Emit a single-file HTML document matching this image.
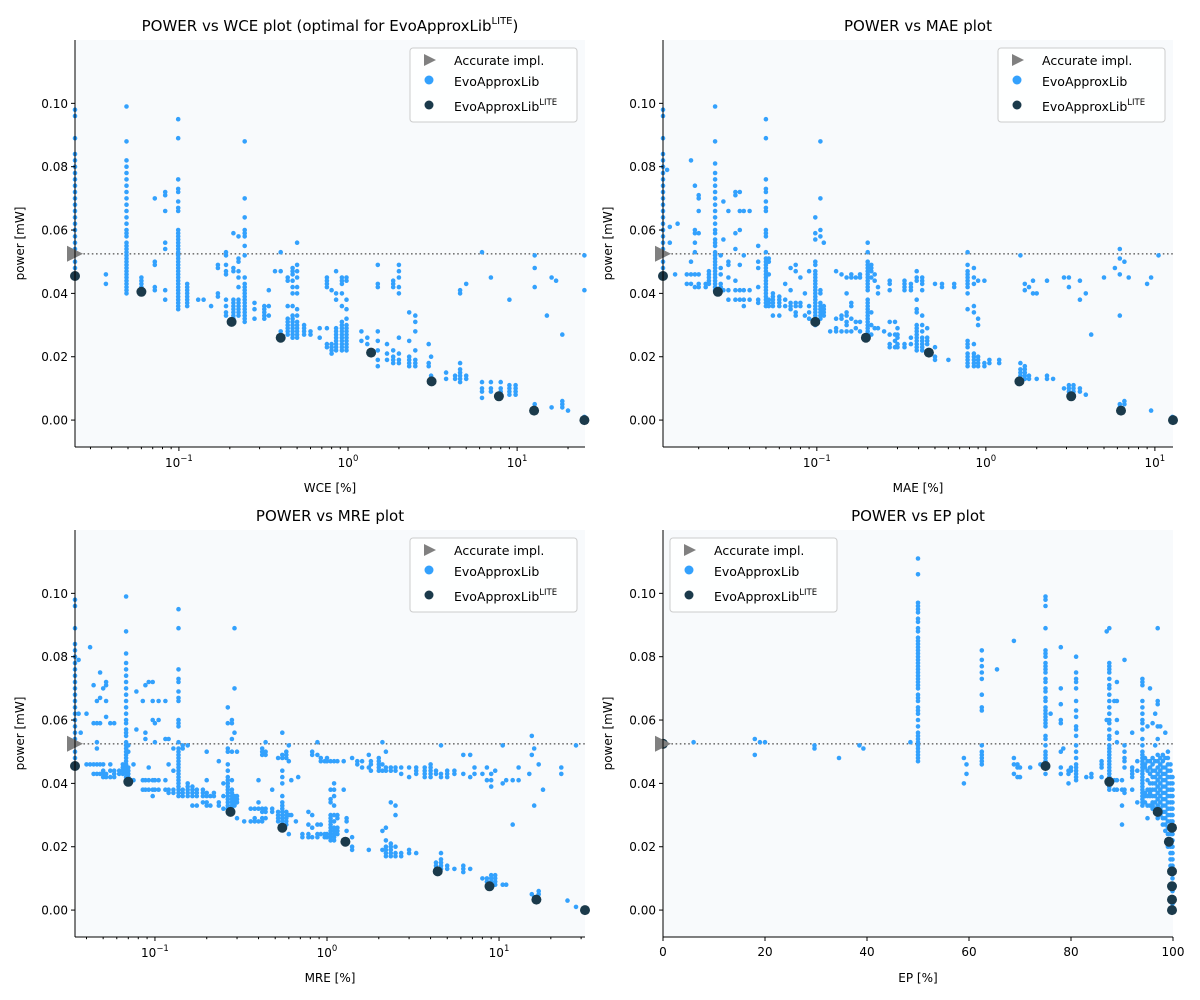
<!DOCTYPE html>
<html><head><meta charset="utf-8"><style>
body{margin:0;background:#fff;}
svg{display:block;font-family:"DejaVu Sans","Liberation Sans",sans-serif;}
</style></head><body>
<svg id="c" width="1200" height="1000" viewBox="0 0 1200 1000" xmlns="http://www.w3.org/2000/svg"></svg>
<script>
const accuratePower = 0.0525;
const yTicks = [0, 0.02, 0.04, 0.06, 0.08, 0.10];
const yTickLabels = ["0.00","0.02","0.04","0.06","0.08","0.10"];
const epTicks = [0,20,40,60,80,100];

const wceLite = [[0.0243,.0455],[0.06,.0405],[0.205,.031],[0.4,.026],[1.37,.0213],[3.12,.0122],[7.8,.0075],[12.6,.003],[25,0]];
const wceCols = [
[0.0243,[.046,.048,.050,.052,.054,.056,.058,.060,.062,.064,.066,.068,.070,.072,.074,.076,.078,.080,.082,.084,.089,.096,.098]],
[0.037,[.043,.046]],
[0.049,[.040,.041,.042,.043,.044,.045,.046,.047,.048,.049,.050,.051,.052,.053,.054,.055,.056,.058,.059,.060,.062,.064,.066,.068,.070,.072,.074,.076,.078,.080,.082,.088,.099]],
[0.06,[.042,.043,.044,.045]],[0.072,[.041,.042,.049,.050,.070]],[0.083,[.038,.041,.054,.056,.066,.071,.072]],
[0.099,[.035,.036,.037,.038,.039,.040,.041,.042,.043,.044,.045,.046,.047,.048,.049,.050,.051,.052,.053,.054,.055,.056,.057,.058,.059,.060,.066,.067,.069,.072,.073,.076,.089,.095]],
[0.112,[.036,.037,.038,.039,.040,.041,.042,.043]],[0.13,[.038]],[0.14,[.038]],[0.155,[.036]],
[0.17,[.039,.040,.048,.049]],[0.19,[.033,.034,.036,.038,.046,.047,.049,.052,.053]],
[0.21,[.032,.033,.034,.035,.036,.037,.038,.047,.048,.059]],[0.225,[.033,.034,.035,.036,.037,.038,.042,.045,.047,.050,.051,.058]],
[0.245,[.031,.032,.033,.034,.035,.036,.037,.038,.039,.040,.041,.042,.043,.045,.052,.055,.058,.059,.060,.064,.070,.088]],
[0.28,[.032,.035,.037]],[0.32,[.032,.033,.034,.035,.036]],[0.34,[.033,.036,.041]],[0.37,[.047]],[0.40,[.028,.047,.053]],
[0.44,[.027,.028,.029,.030,.031,.032,.036,.044,.045]],
[0.47,[.026,.027,.028,.029,.030,.031,.032,.033,.036,.040,.042,.044,.046,.047,.048]],
[0.5,[.026,.027,.028,.029,.030,.031,.033,.035,.040,.042,.045,.047,.049,.056]],
[0.55,[.027,.028,.029,.030]],[0.6,[.027,.028]],[0.68,[.026,.029]],[0.75,[.023,.024,.042,.043,.044,.045,.029]],
[0.8,[.021,.022,.023,.024,.041]],[0.85,[.022,.023,.024,.025,.026,.027,.028,.029,.038,.040,.047]],
[0.92,[.022,.023,.024,.025,.026,.027,.028,.029,.030,.031,.036,.040,.043,.044,.045]],
[0.98,[.022,.023,.024,.025,.026,.027,.028,.029,.030,.032,.035,.038,.044,.045]],
[1.2,[.028,.025]],[1.3,[.024,.026]],[1.5,[.017,.019,.022,.025,.028,.042,.043,.049]],[1.7,[.021,.024,.019]],
[1.85,[.018,.019,.020,.022,.042,.043,.044]],[2.0,[.018,.019,.021,.026,.040,.042,.045,.047,.049]],
[2.3,[.017,.018,.019,.020,.025,.034]],[2.5,[.017,.018,.019,.022,.028,.031,.033]],[3.0,[.018,.024,.017]],[3.1,[.014,.020]],
[3.8,[.013,.015]],[4.3,[.013,.014]],[4.6,[.012,.013,.014,.015,.016,.018,.040,.041]],[5.0,[.013,.014,.043]],
[6.2,[.007,.009,.010,.012,.053]],[7,[.009,.010,.012,.045]],[8,[.008,.009,.010,.012]],[9,[.008,.009,.010,.011,.038]],
[9.8,[.008,.009,.010,.011]],[12.7,[.005,.042,.048,.052]],[15,[.033]],[16,[.004,.045]],[17,[.044]],
[18.5,[.004,.005,.006,.027]],[20,[.003]],[25,[.000,.001,.041,.052]]
];

const maeLite = [[0.0123,.0455],[0.026,.0405],[0.098,.031],[0.195,.026],[0.46,.0213],[1.58,.0122],[3.2,.0075],[6.3,.003],[12.8,0]];
const maeCols = [
[0.0123,[.046,.048,.050,.052,.054,.056,.058,.060,.062,.064,.066,.068,.070,.072,.074,.076,.078,.080,.082,.084,.089,.096,.098]],
[0.013,[.079]],[0.0135,[.061,.056]],[0.015,[.062]],[0.0145,[.046]],[0.017,[.043,.046]],[0.018,[.043,.046,.050,.082]],
[0.019,[.042,.046,.053,.056,.059,.060,.074]],[0.02,[.042,.043,.046,.059,.066,.070,.071]],[0.022,[.042,.043]],[0.023,[.043,.044,.045,.046,.047]],
[0.025,[.041,.042,.043,.044,.045,.046,.047,.048,.049,.050,.051,.052,.053,.055,.056,.057,.059,.060,.062,.064,.066,.068,.070,.072,.074,.076,.078,.081,.088,.099]],
[0.027,[.041,.042,.043,.046,.048,.052]],[0.028,[.041,.069,.057]],[0.03,[.041,.038,.045,.050,.049,.066]],
[0.033,[.038,.041,.044,.054,.059,.071,.072]],[0.035,[.038,.041,.049,.060,.066,.072]],[0.037,[.036,.038,.041,.052,.066]],[0.04,[.038,.041,.066]],
[0.045,[.037,.038,.042,.048,.050,.055]],
[0.05,[.036,.037,.038,.039,.040,.041,.042,.043,.044,.045,.046,.047,.048,.049,.050,.051,.053,.058,.059,.060,.066,.067,.069,.072,.073,.076,.089,.095]],
[0.052,[.036,.037,.038,.046,.050,.051]],[0.055,[.036,.037,.038,.039,.040,.033]],[0.06,[.033,.036,.037,.038,.039]],
[0.065,[.036,.038,.043]],[0.07,[.035,.036,.037,.041,.048]],[0.075,[.033,.034,.036,.037,.047,.049]],[0.08,[.036,.037,.045]],
[0.085,[.033,.040]],[0.09,[.032,.034,.036,.047]],
[0.098,[.030,.031,.032,.033,.034,.035,.036,.037,.038,.039,.040,.041,.042,.043,.044,.045,.046,.047,.049,.050,.057,.059,.064]],
[0.105,[.032,.033,.034,.035,.036,.037,.040,.041,.058,.060,.070,.088]],[0.11,[.033,.034,.035,.036,.056]],[0.12,[.028]],
[0.13,[.028,.029,.032,.047]],[0.14,[.028,.032,.033,.046]],[0.15,[.028,.030,.031,.033,.034,.040,.045]],[0.16,[.028,.032,.036,.037,.045,.046]],
[0.17,[.029,.031,.045]],[0.18,[.028,.031,.045,.046]],
[0.2,[.026,.027,.028,.029,.030,.031,.032,.033,.034,.035,.036,.037,.038,.041,.042,.043,.044,.045,.046,.047,.048,.049,.050,.053,.056]],
[0.21,[.027,.030,.034,.045,.047,.048,.049]],[0.22,[.029,.044,.046]],[0.23,[.029,.040,.042]],[0.25,[.028]],
[0.27,[.023,.024,.027,.031,.041,.043,.044]],[0.29,[.023,.025,.027,.031]],[0.3,[.023,.024,.026,.027,.029]],
[0.33,[.023,.024,.041,.042,.043,.044]],[0.36,[.024,.026,.041,.042,.043]],
[0.39,[.022,.023,.024,.025,.026,.027,.028,.029,.030,.034,.035,.038,.044,.045,.047]],
[0.42,[.022,.023,.024,.025,.026,.028,.030,.033,.041,.043,.044,.045]],[0.45,[.024,.025,.026,.029]],
[0.5,[.019,.020,.023,.043]],[0.55,[.042,.043]],[0.6,[.019]],[0.65,[.042,.043]],
[0.78,[.017,.018,.019,.020,.021,.023,.024,.025,.035,.040,.042,.043,.044,.045,.046,.047,.049,.053]],
[0.85,[.017,.018,.019,.020,.021,.024,.034,.036,.043,.045,.048]],[0.9,[.017,.018,.019,.020,.030,.032,.044]],
[0.98,[.017,.018,.044]],[1.05,[.018,.019]],[1.2,[.018,.019]],
[1.6,[.013,.014,.015,.016,.018,.052]],[1.7,[.013,.014,.015,.016,.017,.043,.041]],[1.8,[.013,.014,.042]],[1.9,[.040,.044]],[2.0,[.013,.040]],
[2.3,[.013,.014,.044]],[2.5,[.013]],[2.9,[.010,.045]],[3.1,[.009,.010,.011,.045,.042]],[3.3,[.008,.009,.010,.011]],
[3.6,[.044,.009,.010,.038]],[3.9,[.008,.040]],[4.2,[.027]],[5.0,[.045]],[5.8,[.048]],[6.2,[.004,.005,.046,.051,.054,.033]],
[6.6,[.005,.006,.050]],[7,[.045]],[9,[.043]],[9.5,[.003,.045]],[10.5,[.052]],[12.7,[.001]]
];

const mreLite = [[0.0343,.0455],[0.07,.0405],[0.275,.031],[0.55,.026],[1.28,.0216],[4.4,.0122],[8.8,.0075],[16.5,.0033],[31.6,0]];
const mreCols = [
[0.0343,[.046,.048,.050,.052,.054,.056,.058,.060,.062,.064,.066,.068,.070,.072,.074,.076,.078,.080,.082,.084,.089,.096,.098]],
[0.036,[.062,.079]],[0.037,[.056]],[0.04,[.046,.062]],[0.042,[.046,.083]],[0.044,[.043,.046,.059,.071]],
[0.046,[.043,.046,.051,.053,.059,.066]],[0.048,[.043,.046,.059,.075,.067]],[0.05,[.042,.043,.044,.046,.070]],
[0.052,[.042,.043,.061,.066,.071,.072]],[0.055,[.042,.044,.059,.046]],[0.058,[.042,.043,.044,.059]],[0.062,[.043,.044]],[0.065,[.043,.044,.045,.046]],
[0.068,[.041,.042,.043,.044,.045,.046,.047,.048,.049,.050,.051,.052,.053,.055,.056,.057,.059,.060,.062,.064,.066,.068,.070,.072,.074,.076,.078,.081,.088,.099]],
[0.07,[.042,.043,.044,.045,.050,.052]],[0.075,[.041,.046]],[0.078,[.057,.069]],[0.085,[.038,.041,.066]],
[0.088,[.038,.041,.054,.056,.071]],[0.092,[.038,.041,.045,.072]],[0.097,[.036,.038,.041,.060,.066,.072]],[0.1,[.038,.041,.053,.059]],
[0.105,[.038,.041,.060,.066]],[0.115,[.038,.041,.054,.066]],[0.12,[.037,.038,.046,.054]],[0.128,[.037,.038,.044,.051]],
[0.137,[.036,.037,.038,.039,.040,.041,.042,.043,.044,.045,.046,.047,.048,.049,.050,.051,.053,.058,.059,.060,.066,.067,.069,.072,.073,.076,.089,.095]],
[0.145,[.036,.037,.038,.051,.052]],[0.155,[.036,.037,.038,.039,.040,.052]],[0.165,[.033,.036,.037,.038,.039]],[0.175,[.033,.036,.037,.038]],
[0.19,[.034,.036,.037,.038]],[0.2,[.033,.034,.036,.037,.041,.050]],[0.21,[.033,.036]],[0.22,[.036,.037]],[0.235,[.033,.034,.047]],[0.25,[.032,.036,.040]],
[0.265,[.031,.032,.033,.034,.035,.036,.037,.038,.039,.040,.041,.042,.044,.046,.050,.051,.059,.064]],
[0.28,[.032,.033,.034,.035,.036,.037,.038,.041,.050,.054,.059,.060]],[0.29,[.033,.034,.035,.036,.056,.070,.089]],
[0.3,[.029,.034,.035,.036,.050]],[0.33,[.028]],[0.36,[.028,.032]],[0.38,[.028,.029,.032]],[0.4,[.028,.032,.034,.041]],
[0.42,[.028,.029,.031,.032,.049,.050,.051]],[0.44,[.029,.031,.032,.049,.050,.053]],[0.48,[.031,.032,.038]],
[0.52,[.028,.029,.030,.031,.048]],[0.55,[.026,.027,.028,.029,.030,.031,.032,.033,.034,.036,.040,.042,.044,.048,.049,.056]],
[0.58,[.027,.028,.029,.030,.031,.048,.049,.050]],[0.6,[.024,.030,.047,.052]],[0.62,[.030,.041]],[0.66,[.028]],[0.68,[.042]],
[0.72,[.023,.024]],[0.78,[.023,.024,.027,.031]],[0.82,[.023,.026,.030,.049,.050]],[0.88,[.023,.024,.027,.049,.053]],
[0.92,[.024,.027,.047,.048]],[0.97,[.023,.024,.047]],[1.0,[.023,.024,.047,.048]],
[1.05,[.022,.023,.024,.025,.026,.027,.028,.029,.030,.034,.035,.038,.047]],
[1.1,[.022,.023,.024,.025,.026,.028,.030,.033,.036,.038,.040,.047]],[1.15,[.024,.025,.026,.029,.030,.047]],
[1.25,[.038,.047]],[1.3,[.025,.028,.029]],[1.4,[.019,.020,.023,.048]],[1.5,[.046,.047]],[1.6,[.045,.047]],
[1.75,[.019,.045,.049]],[1.8,[.044,.046,.047]],[2.0,[.044,.045,.046,.047,.048]],[2.1,[.019,.025,.044,.046,.053]],
[2.2,[.017,.018,.019,.020,.022,.026,.050,.044,.045]],[2.35,[.017,.018,.019,.020,.021,.034,.045,.044]],
[2.5,[.017,.018,.020,.030,.033,.044,.045]],[2.7,[.017,.018,.043,.045]],[3.0,[.018,.019,.042,.045]],[3.3,[.018,.043,.044,.045]],
[3.7,[.042,.043,.044,.045]],[4.0,[.042,.043,.044,.045,.046]],[4.3,[.013,.014,.015,.043,.044]],
[4.6,[.013,.014,.015,.016,.018,.042,.043,.052]],[5.0,[.013,.014,.043,.042,.044]],[5.5,[.013,.043,.044]],
[6.2,[.012,.013,.014,.043,.049]],[6.8,[.013,.042,.049]],[7.2,[.043,.045]],[8,[.010,.043]],[8.5,[.009,.010,.041,.045]],
[9,[.008,.009,.010,.011,.039,.041,.043]],[9.5,[.008,.009,.010,.011,.044]],[10.5,[.008,.040,.052]],[11,[.008,.041]],
[12,[.027,.041]],[13,[.041,.045]],[15,[.043]],[15.5,[.005,.049,.055]],[16,[.004,.051,.033]],[17,[.005,.006,.046]],
[18,[.038]],[23,[.045,.043]],[25,[.003]],[28,[.001,.052]]
];

const epLite = [[0,.0525],[75,.0455],[87.5,.0405],[97,.031],[99.8,.026],[99.2,.0216],[99.8,.0122],[99.8,.0075],[99.8,.0033],[99.8,0]];
const epCols = [
[6,[.053]],[18,[.054,.049]],[19,[.053]],[20,[.053]],[29.7,[.051,.052]],[34.5,[.048]],[38.5,[.052]],[39.3,[.051]],[48.5,[.053]],
[50,[.047,.048,.049,.050,.051,.052,.053,.054,.055,.056,.058,.060,.062,.063,.064,.066,.067,.068,.070,.071,.072,.073,.074,.075,.076,.077,.078,.079,.080,.081,.082,.083,.084,.085,.086,.088,.089,.091,.092,.094,.095,.096,.097,.106,.111]],
[59,[.040,.048]],[59.5,[.043,.046]],[62.5,[.046,.047,.048,.049,.050,.052,.063,.064,.068,.073,.075,.077,.079,.082]],[65.5,[.076]],
[68.8,[.085,.048,.046,.043]],[69.5,[.042,.045,.046]],[70,[.042,.045]],[72,[.045]],[74,[.046]],
[75,[.043,.045,.046,.047,.048,.049,.050,.052,.054,.055,.058,.059,.060,.061,.062,.063,.064,.066,.067,.069,.070,.072,.073,.075,.076,.077,.078,.080,.081,.082,.089,.096,.098,.099]],
[76,[.062]],[78,[.043,.045,.050,.059,.060,.065,.070,.083]],[78.5,[.051]],[79.5,[.040,.043,.044]],[80,[.044,.045]],
[81,[.041,.042,.043,.044,.045,.046,.048,.050,.052,.055,.057,.058,.061,.063,.066,.070,.072,.073,.075,.080]],
[83,[.042]],[84,[.042,.043]],[86,[.042,.045,.046,.047]],[87,[.060,.088]],
[87.5,[.038,.039,.040,.041,.042,.043,.044,.045,.046,.047,.048,.049,.050,.051,.052,.054,.055,.057,.059,.060,.062,.064,.066,.068,.070,.071,.073,.075,.076,.077,.078,.089]],
[88.5,[.038,.041,.066]],[89,[.038,.041,.053,.056,.060,.066,.072]],[90,[.033,.027,.038,.041]],[90.5,[.037,.038,.045,.047,.048,.050,.052,.079]],
[92,[.038,.042,.043,.044,.045,.056]],[93,[.034,.044,.047]],
[94,[.033,.034,.035,.036,.037,.038,.039,.040,.041,.042,.043,.044,.045,.046,.047,.048,.049,.050,.052,.054,.057,.059,.060,.062,.064,.066,.071,.072,.073]],
[94.5,[.034,.036,.037,.045,.046,.048]],[95,[.029,.033,.036,.038,.041,.044,.047,.058]],[95.5,[.033,.036,.037,.038,.040,.043,.045,.047,.070]],
[96,[.032,.033,.034,.036,.038,.040,.042,.044,.046,.048,.059]],[96.5,[.032,.034,.036,.038,.040,.042,.044,.047,.052,.062]],
[97,[.029,.031,.033,.035,.037,.039,.041,.043,.045,.047,.049,.054,.058,.065,.066,.089]],
[97.5,[.030,.032,.034,.036,.038,.040,.042,.044,.046,.048,.058]],
[98,[.027,.029,.031,.033,.035,.037,.039,.041,.043,.045,.047,.049]],
[98.5,[.025,.027,.029,.031,.033,.035,.037,.039,.041,.043,.045,.048,.056]],
[99,[.020,.022,.024,.026,.028,.030,.032,.034,.036,.038,.040,.042,.044,.046,.048,.050]],
[99.5,[.012,.014,.016,.018,.020,.022,.024,.026,.028,.030,.032,.034,.036,.038,.040,.042,.044,.046]],
[99.9,[.000,.002,.004,.006,.008,.010,.012,.014,.016,.018,.020,.022,.024,.026,.028,.030,.032,.034,.036,.038,.040,.042]]
];

const NS = "http://www.w3.org/2000/svg";
const svg = document.getElementById('c');
function mk(tag, attrs, parent){ const e=document.createElementNS(NS,tag); for(const k in attrs) e.setAttribute(k,attrs[k]); (parent||svg).appendChild(e); return e; }

const panels = [
 {name:'wce', left:75, top:40, log:true, xmin:0.0243, xmax:25.2, cols:wceCols, lite:wceLite, label:'WCE [%]', legendX:410, title:'POWER vs WCE plot (optimal for EvoApproxLib', sup:true},
 {name:'mae', left:663, top:40, log:true, xmin:0.0123, xmax:12.8, cols:maeCols, lite:maeLite, label:'MAE [%]', legendX:998, title:'POWER vs MAE plot'},
 {name:'mre', left:75, top:530, log:true, xmin:0.0343, xmax:31.6, cols:mreCols, lite:mreLite, label:'MRE [%]', legendX:410, title:'POWER vs MRE plot'},
 {name:'ep', left:663, top:530, log:false, xmin:0, xmax:100, cols:epCols, lite:epLite, label:'EP [%]', legendX:670, title:'POWER vs EP plot'}
];
const W=510, H=407, YMIN=-0.0085, YMAX=0.12;

panels.forEach(p=>{
  const g = mk('g',{});
  
  
  const xS = v => p.log ? p.left + (Math.log10(v)-Math.log10(p.xmin))/(Math.log10(p.xmax)-Math.log10(p.xmin))*W
                        : p.left + (v-p.xmin)/(p.xmax-p.xmin)*W;
  const yS = v => p.top + (YMAX-v)/(YMAX-YMIN)*H;
  const bg = mk('rect',{x:p.left,y:p.top,width:W,height:H,fill:'#f8fafc'},g);
  
  
  const rl = mk('line',{x1:p.left,x2:p.left+W,y1:yS(accuratePower),y2:yS(accuratePower),stroke:'#777','stroke-width':1.6,'stroke-dasharray':'1.6,2.6'},g);
  
  
  const clip = mk('clipPath',{id:'cl'+p.name},g);
  mk('rect',{x:p.left-6,y:p.top,width:W+12,height:H},clip);
  const pts = mk('g',{'clip-path':'url(#cl'+p.name+')'},g);
  
  
  p.cols.forEach(col=>{
    col[1].forEach(y=>{
      const c = mk('circle',{cx:xS(col[0]).toFixed(1),cy:yS(y).toFixed(1),r:2.3,fill:'#33a1fd'},pts);
      
      
    });
  });
  const lp = mk('g',{},g);
  
  
  p.lite.forEach(d=>{
    const c = mk('circle',{cx:xS(d[0]).toFixed(1),cy:yS(d[1]).toFixed(1),r:5,fill:'#1b3a4b'},lp);
    
    
  });
  const ay=yS(accuratePower), ax=p.left;
  const tri = mk('polygon',{points:`${ax-8},${ay-8} ${ax+8},${ay} ${ax-8},${ay+8}`,fill:'#808080'},g);
  
  
  mk('line',{x1:p.left,x2:p.left,y1:p.top,y2:p.top+H,stroke:'#000','stroke-width':1},g);
  mk('line',{x1:p.left,x2:p.left+W,y1:p.top+H,y2:p.top+H,stroke:'#000','stroke-width':1},g);
  yTicks.forEach((t,i)=>{
    const y=yS(t);
    mk('line',{x1:p.left-4,x2:p.left,y1:y,y2:y,stroke:'#000'},g);
    const tx = mk('text',{x:p.left-7,y:y+4.5,'text-anchor':'end','font-size':12},g);
    tx.textContent = yTickLabels[i];
    
    
  });
  const base = p.top+H;
  if(p.log){
    for(let e=-3;e<=2;e++){
      for(let m=1;m<10;m++){
        const v=m*Math.pow(10,e);
        if(v<p.xmin||v>p.xmax) continue;
        const x=xS(v);
        mk('line',{x1:x,x2:x,y1:base,y2:base+(m==1?4:2.2),stroke:'#000'},g);
        if(m==1){
          const tx = mk('text',{x:x,y:base+20,'text-anchor':'middle','font-size':12},g);
          
          
          const a = mk('tspan',{},tx); a.textContent='10';
          const b = mk('tspan',{dy:-6,'font-size':8.5},tx); b.textContent=String(e).replace('-','\u2212');
        }
      }
    }
  } else {
    epTicks.forEach(t=>{
      const x=xS(t);
      mk('line',{x1:x,x2:x,y1:base,y2:base+4,stroke:'#000'},g);
      const tx = mk('text',{x:x,y:base+19,'text-anchor':'middle','font-size':12},g);
      tx.textContent=t;
      
      
    });
  }
  const xl = mk('text',{x:p.left+W/2,y:base+45,'text-anchor':'middle','font-size':12},g);
  xl.textContent=p.label;
  
  
  const yl = mk('text',{x:0,y:0,'text-anchor':'middle','font-size':12,transform:`translate(${p.left-51},${p.top+H/2}) rotate(-90)`},g);
  yl.textContent='power [mW]';
  
  
  const tt = mk('text',{x:p.left+W/2,y:p.top-9,'text-anchor':'middle','font-size':15},g);
  
  
  const t1 = mk('tspan',{},tt); t1.textContent=p.title;
  if(p.sup){ const t2=mk('tspan',{dy:-7,'font-size':10},tt); t2.textContent='LITE'; const t3=mk('tspan',{dy:7},tt); t3.textContent=')'; }
  const lx=p.legendX, ly=p.top+8;
  const lg = mk('g',{},g);
  
  
  mk('rect',{x:lx,y:ly,width:167,height:74,rx:3,fill:'#fff','fill-opacity':0.85,stroke:'#ccc'},lg);
  mk('polygon',{points:`${lx+14},${ly+6} ${lx+26},${ly+12} ${lx+14},${ly+18}`,fill:'#808080'},lg);
  mk('circle',{cx:lx+19,cy:ly+32,r:4.5,fill:'#33a1fd'},lg);
  mk('circle',{cx:lx+19,cy:ly+57,r:4.5,fill:'#1b3a4b'},lg);
  const e1=mk('text',{x:lx+44,y:ly+17,'font-size':12.5},lg); e1.textContent='Accurate impl.';
  
  
  const e2=mk('text',{x:lx+44,y:ly+38,'font-size':12.5},lg); e2.textContent='EvoApproxLib';
  
  
  const e3=mk('text',{x:lx+44,y:ly+63,'font-size':12.5},lg);
  
  
  const s1=mk('tspan',{},e3); s1.textContent='EvoApproxLib';
  const s2=mk('tspan',{dy:-6,'font-size':8.5},e3); s2.textContent='LITE';
});
</script>
</body></html>
